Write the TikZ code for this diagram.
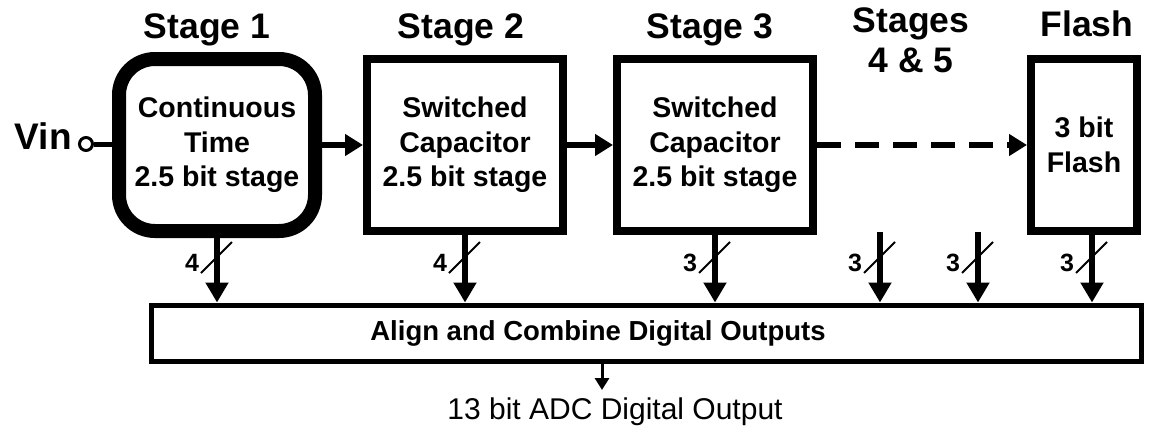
\documentclass[tikz,border=0pt]{standalone}
\usepackage{fontspec}
\setmainfont{Liberation Sans}
\usepackage{tikz}
\usetikzlibrary{arrows.meta,positioning,calc}

\newcommand{\titlefont}{\fontsize{35.5}{40}\selectfont\bfseries}
\newcommand{\stagefont}{\fontsize{28.5}{34.5}\selectfont\bfseries}
\newcommand{\combinefont}{\fontsize{27.5}{32}\selectfont\bfseries}
\newcommand{\busfont}{\fontsize{25}{28}\selectfont\bfseries}
\newcommand{\outfont}{\fontsize{30}{34}\selectfont}

\tikzset{
  stagebox/.style={draw,line width=8pt,minimum width=196pt,minimum height=172pt,
                   align=center,inner sep=0pt,font=\stagefont},
  ctbox/.style={stagebox,line width=14pt,rounded corners=36pt},
  headlabel/.style={font=\titlefont,anchor=base,inner sep=0pt},
  link/.style={line width=6pt,-{Triangle[length=18pt,width=21pt]}},
  bus/.style={line width=5.5pt,-{Triangle[length=20pt,width=22pt]}},
  buslabel/.style={font=\busfont,inner sep=0pt},
}

\begin{document}
\begin{tikzpicture}[x=1pt,y=-1pt]
  \useasboundingbox (0,0) rectangle (1157,432);

  % pipeline stages
  \node[ctbox] (s1) at (217,145) {Continuous\\Time\\2.5 bit stage};
  \node[stagebox] (s2) at (465,145) {Switched\\Capacitor\\2.5 bit stage};
  \node[stagebox] (s3) at (715,145) {Switched\\Capacitor\\2.5 bit stage};
  \node[stagebox,minimum width=106pt] (fl) at (1084,145) {3 bit\\Flash};

  % headings
  \node[headlabel] (hd1) at (207,38) {Stage 1};
  \node[headlabel] (hd2) at (461,38) {Stage 2};
  \node[headlabel] (hd3) at (710,38) {Stage 3};
  \node[headlabel] (hd4) at (911,32) {Stages};
  \node[headlabel] (hd5) at (911,72) {4 \& 5};
  \node[headlabel] (hd6) at (1087,36) {Flash};

  % analog input
  \node[font=\fontsize{37}{40}\selectfont\bfseries,anchor=base east,inner sep=0pt] (vin) at (72,149) {Vin};
  \node[draw,circle,line width=3pt,minimum size=13pt,inner sep=0pt] (vinpin) at (86,144) {};
  \draw[line width=5pt] (vinpin) -- (vinpin -| s1.west);

  % residue chain
  \draw[link] (s1) -- (s2);
  \draw[link] (s2) -- (s3);
  \draw[link,dash pattern=on 24pt off 14pt] (s3) -- (fl);

  % digital correction block
  \node[draw,line width=5pt,minimum width=990pt,minimum height=56pt] (align) at (646,333) {};
  \node[font=\combinefont] (combine) at (598,333) {Align and Combine Digital Outputs};

  % bus taps
  \coordinate (t1) at (s1.south);
  \coordinate (t2) at (s2.south);
  \coordinate (t3) at (s3.south);
  \coordinate (t4) at (880,232);
  \coordinate (t5) at (978,232);
  \coordinate (t6) at ($(fl.south)+(8,0)$);
  \coordinate (slashrow) at (0,258);
  \foreach \i/\n in {1/4,2/4,3/3,4/3,5/3,6/3} {
    \draw[bus] (t\i) -- (t\i |- align.north);
    \draw[line width=2pt] ($(t\i |- slashrow)+(-16,15)$) -- ++(31,-31);
    \node[buslabel] at ($(t\i |- slashrow)+(-25,5)$) {\n};
  }

  % converter output
  \coordinate (outtip) at (602,390);
  \draw[line width=3pt,-{Triangle[length=12pt,width=14pt]}] (outtip |- align.south) -- (outtip);
  \node[font=\outfont] (adcout) at (615,412) {13 bit ADC Digital Output};
\end{tikzpicture}
\end{document}
